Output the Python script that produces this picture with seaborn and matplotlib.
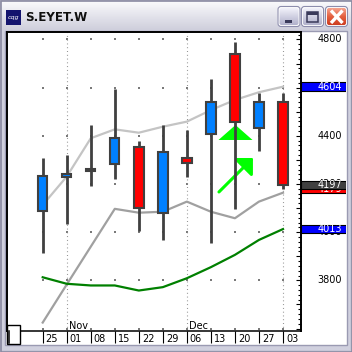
import numpy as np
import matplotlib
matplotlib.use("Agg")
import matplotlib.pyplot as plt
import seaborn as sns
from matplotlib import transforms
from matplotlib.patches import Rectangle, FancyBboxPatch
from matplotlib.colors import LinearSegmentedColormap

# ---------------- data ----------------
title = "S.EYET.W"
week_labels = ['25', '01', '08', '15', '22', '29', '06', '13', '20', '27', '03']
month_labels = ['Nov', 'Dec']
month_start_idx = [1, 6]
current_idx = 10

opens = [4087, 4229, 4254, 4282, 4355, 4080, 4307, 4408, 4741, 4433, 4540]
highs = [4307, 4320, 4445, 4593, 4379, 4445, 4424, 4635, 4790, 4579, 4579]
lows = [3915, 4036, 4193, 4222, 4007, 3968, 4231, 3957, 4098, 4339, 4180]
closes = [4235, 4241, 4261, 4393, 4101, 4335, 4287, 4540, 4458, 4540, 4197]

upper_band = [4113, 4231, 4390, 4427, 4413, 4438, 4459, 4507, 4549, 4581, 4604]
lower_band = [3625, 3783, 3940, 4097, 4081, 4085, 4127, 4085, 4058, 4127, 4164]
moving_avg = [3813, 3786, 3779, 3779, 3758, 3772, 3809, 3855, 3906, 3968, 4013]

price_labels = [4800, 4600, 4400, 4200, 4000, 3800]
grid_levels = [4800, 4600, 4400, 4200, 4000, 3800, 3600]

flag_values = [4179, 4197, 4604, 4013]
flag_texts = ['4179', '4197', '4604', '4013']
flag_colors = ['#ff0000', '#404040', '#0000ff', '#0000ff']

signal_idx = [8]
signal_price = [4414]
arrow_tail = (7.335, 4167)
arrow_tip = (8.75, 4308)

# ---------------- figure ----------------
W = H = 352
fig = plt.figure(figsize=(3.52, 3.52), dpi=100)
fig.patch.set_facecolor('#c6c6d6')


def fr(x0, y0, x1, y1):
    return [x0 / W, 1 - y1 / H, (x1 - x0) / W, (y1 - y0) / H]


# window chrome (background, pixel coordinates)
bg = fig.add_axes([0, 0, 1, 1], zorder=0)
tcmap = LinearSegmentedColormap.from_list('t', ['#fafafc', '#e4e4ec', '#cfcfdc'])
bg.imshow(np.linspace(0, 1, 40).reshape(-1, 1), extent=(1, W - 1, 30, 1),
          cmap=tcmap, aspect='auto', zorder=0)
bg.add_patch(Rectangle((0.5, 0.5), W - 1, H - 1, fc='none', ec='#8a8aa2', lw=1.2, zorder=1))
bg.add_patch(Rectangle((2, 30), W - 4, H - 32, fc='#d0d0de', ec='none', zorder=1))
bg.add_patch(Rectangle((5, 30.5), 342, 314, fc='white', ec='#9a9ab2', lw=1, zorder=2))

# icon and title
bg.add_patch(Rectangle((6, 10), 15, 15, fc='#14146e', ec='none', zorder=3))
bg.text(13.5, 17.2, 'cqg', color='white', fontsize=4.6, ha='center', va='center',
        style='italic', zorder=4)
bg.text(25.5, 17.5, title, fontsize=8.6, fontweight='bold', ha='left', va='center',
        color='#101010', zorder=4)

# buttons
bcmap = LinearSegmentedColormap.from_list('b', ['#f4f4fc', '#d0d0e2', '#b0b0ca'])
ccmap = LinearSegmentedColormap.from_list('c', ['#f6a894', '#e4603f', '#cc3a1e'])
for x0, cm in [(278.5, bcmap), (302, bcmap), (326, ccmap)]:
    p = FancyBboxPatch((x0, 7), 21, 19, boxstyle='round,pad=0,rounding_size=3',
                       fc='none', ec='#ffffff', lw=1.4, zorder=5)
    bg.add_patch(p)
    im = bg.imshow(np.linspace(0, 1, 20).reshape(-1, 1), extent=(x0, x0 + 21, 26, 7),
                   cmap=cm, aspect='auto', zorder=4)
    im.set_clip_path(p)
    bg.add_patch(FancyBboxPatch((x0 - 0.5, 6.5), 22, 20, boxstyle='round,pad=0,rounding_size=3',
                                fc='none', ec='#8c8cac', lw=0.8, zorder=6))
bg.add_patch(Rectangle((285, 20.3), 7, 2.2, fc='#3a3a5a', ec='none', zorder=7))
bg.add_patch(Rectangle((306.5, 12), 11, 10.3, fc='none', ec='#3a3a5a', lw=1.1, zorder=7))
bg.add_patch(Rectangle((306.5, 12), 11, 2.5, fc='#3a3a5a', ec='none', zorder=7))
bg.plot([331, 342.5], [10.5, 23], color='white', lw=2.4, zorder=7, solid_capstyle='butt')
bg.plot([331, 342.5], [23, 10.5], color='white', lw=2.4, zorder=7, solid_capstyle='butt')
bg.set_xlim(0, W)
bg.set_ylim(H, 0)
bg.axis('off')

# ---------------- main price axes ----------------
ax = fig.add_axes(fr(7, 32, 301, 331), zorder=2)
ax.set_facecolor('white')

idx = np.arange(len(week_labels))

# dotted grid
gx, gy = np.meshgrid(idx, grid_levels)
ax.scatter(gx.ravel(), gy.ravel(), s=1.1, c='#7a7a7a', marker='s', lw=0, zorder=0.5)
for i in month_start_idx + [current_idx]:
    ax.axvline(i, color='#8a8a8a', lw=0.8, ls=(0, (0.8, 2.6)), zorder=0.6)

# bands and moving average
sns.lineplot(x=idx, y=upper_band, color='#c4c4c4', lw=1.6, ax=ax, zorder=1)
sns.lineplot(x=idx, y=lower_band, color='#a0a0a0', lw=1.6, ax=ax, zorder=1)
sns.lineplot(x=idx, y=moving_avg, color='#008000', lw=1.6, ax=ax, zorder=1)

# signals
tri = [(-1, -0.44), (1, -0.44), (0, 0.44), (-1, -0.44)]
ax.scatter(signal_idx, signal_price, marker=tri, s=600, c='#00ff00', lw=0, zorder=2)
ax.annotate('', xy=arrow_tip, xytext=arrow_tail,
            arrowprops=dict(arrowstyle='-|>,head_length=7.6,head_width=7.6', mutation_scale=1,
                            color='#00ff00', lw=2.2, shrinkA=0, shrinkB=0), zorder=2)

# candles
o = np.array(opens)
c = np.array(closes)
ax.vlines(idx, lows, highs, color='#404040', lw=2.0, zorder=3)
body_colors = ['#0080ff' if cc >= oo else '#ff0000' for oo, cc in zip(o, c)]
ax.bar(idx, np.abs(c - o), width=0.39, bottom=np.minimum(o, c), color=body_colors,
       edgecolor='#404040', linewidth=1.5, zorder=4)

ax.set_xlim(-1.486, 10.75)
ax.set_ylim(3590, 4831)

for s in ax.spines.values():
    s.set_color('black')
    s.set_linewidth(1.4)
ax.spines['bottom'].set_linewidth(1.1)

ax.set_xticks(idx)
ax.set_xticklabels([])
ax.tick_params(axis='x', direction='out', length=8.7, width=0.8, color='black')
ax.yaxis.set_ticks_position('right')
ax.set_yticks(np.arange(3600, 4831, 100))
ax.set_yticks(np.arange(3600, 4831, 20), minor=True)
ax.tick_params(axis='y', which='major', direction='in', length=3.4, width=0.8, labelright=False)
ax.tick_params(axis='y', which='minor', direction='in', length=2.0, width=0.8)
ax.set_xlabel('')
ax.set_ylabel('')

xb = transforms.blended_transform_factory(ax.transData, ax.transAxes)
for i, lab in enumerate(week_labels):
    ax.text(i, 0, lab, fontsize=7, ha='left', va='center', clip_on=False,
            transform=transforms.offset_copy(xb, fig=fig, x=3, y=-7.5, units='dots'))
for i, lab in zip(month_start_idx, month_labels):
    ax.text(i, 0, lab, fontsize=7, ha='left', va='center',
            transform=transforms.offset_copy(xb, fig=fig, x=2, y=5, units='dots'))

# ---------------- price scale panel ----------------
ax2 = fig.add_axes(fr(301, 32, 346, 331), zorder=2)
ax2.set_xlim(0, 1)
ax2.set_ylim(ax.get_ylim())
ax2.axis('off')
yb = transforms.blended_transform_factory(ax2.transAxes, ax2.transData)
for p in price_labels:
    ax2.text(0.915, p, str(p), fontsize=7, ha='right', va='center', transform=yb, zorder=1)
box_h = 8.5 / 0.241
for k, (v, t, col) in enumerate(zip(flag_values, flag_texts, flag_colors)):
    ax2.add_patch(Rectangle((0.01, v - box_h / 2), 0.98, box_h, transform=yb,
                            fc=col, ec='black', lw=0.8, zorder=2 + k))
    ax2.text(0.915, v, t, fontsize=7, color='white', ha='right', va='center',
             transform=yb, zorder=2.5 + k)

# ---------------- overlay (corner box) ----------------
ov = fig.add_axes([0, 0, 1, 1], zorder=5)
ov.patch.set_alpha(0)
ov.add_patch(Rectangle((7, 325), 13, 19, fc='white', ec='black', lw=1))
ov.plot([9, 9], [331, 342.5], color='black', lw=1.1)
ov.set_xlim(0, W)
ov.set_ylim(H, 0)
ov.axis('off')

fig.savefig('out.png', dpi=100, facecolor=fig.get_facecolor())
